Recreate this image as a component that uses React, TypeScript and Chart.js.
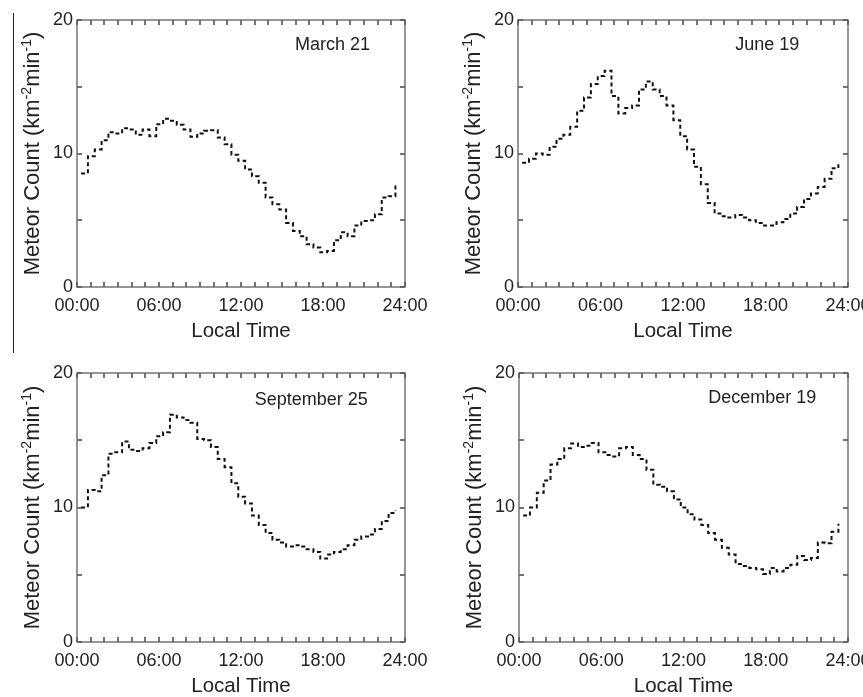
import React, { useEffect, useRef } from 'react';
import { Chart, registerables } from 'chart.js';

Chart.register(...registerables);

// Local time (hours) of each 30-minute step
const HOURS = [
  0.3, 0.8, 1.3, 1.8, 2.3, 2.8, 3.3, 3.8, 4.3, 4.8, 5.3, 5.8, 6.3, 6.8, 7.3, 7.8,
  8.3, 8.8, 9.3, 9.8, 10.3, 10.8, 11.3, 11.8, 12.3, 12.8, 13.3, 13.8, 14.3, 14.8,
  15.3, 15.8, 16.3, 16.8, 17.3, 17.8, 18.3, 18.8, 19.3, 19.8, 20.3, 20.8, 21.3,
  21.8, 22.3, 22.8, 23.3,
];

const MARCH_21 = [
  8.5, 9.8, 10.3, 11.0, 11.6, 11.5, 11.9, 11.8, 11.4, 11.8, 11.3, 12.2, 12.6, 12.45,
  12.15, 11.8, 11.25, 11.5, 11.7, 11.75, 11.2, 10.7, 9.9, 9.45, 8.8, 8.3, 7.8, 6.7,
  6.2, 5.8, 4.8, 4.2, 3.8, 3.2, 2.95, 2.6, 2.7, 3.5, 4.1, 3.8, 4.6, 4.95, 5.0, 5.45,
  6.7, 6.8, 7.6,
];

const JUNE_19 = [
  9.3, 9.6, 10.0, 9.9, 10.5, 11.1, 11.4, 12.0, 13.2, 14.2, 15.2, 15.8, 16.2, 14.3,
  13.0, 13.4, 13.6, 14.8, 15.4, 14.8, 14.3, 13.6, 12.5, 11.3, 10.3, 9.0, 7.7, 6.3,
  5.5, 5.3, 5.2, 5.4, 5.2, 5.0, 4.8, 4.6, 4.6, 4.85, 5.1, 5.5, 6.0, 6.6, 7.0, 7.5,
  8.1, 8.9, 9.2,
];

const SEPTEMBER_25 = [
  10.0, 11.3, 11.2, 12.4, 14.0, 14.1, 14.9, 14.3, 14.2, 14.4, 14.8, 15.3, 15.6, 16.9,
  16.7, 16.5, 16.3, 15.1, 15.0, 14.5, 13.6, 13.0, 11.8, 10.8, 10.3, 9.4, 8.7, 8.1,
  7.6, 7.4, 7.1, 7.2, 7.1, 6.9, 6.7, 6.2, 6.5, 6.7, 6.9, 7.2, 7.6, 7.85, 8.0, 8.4,
  9.0, 9.6, 9.8,
];

const DECEMBER_19 = [
  9.4, 10.0, 11.1, 12.0, 13.2, 13.6, 14.4, 14.75, 14.5, 14.6, 14.8, 14.1, 13.9, 13.8,
  14.4, 14.5, 13.9, 13.6, 12.8, 11.7, 11.55, 11.2, 10.6, 10.0, 9.5, 9.1, 8.7, 8.1,
  7.6, 7.0, 6.5, 5.8, 5.65, 5.5, 5.4, 5.05, 5.5, 5.25, 5.5, 5.75, 6.4, 6.1, 6.25,
  7.4, 7.35, 8.2, 8.8,
];

// Tick positions (hourly marks on the time axis, every 5 on the count axis)
const X_TICKS = [0, 1, 2, 3, 4, 5, 6, 7, 8, 9, 10, 11, 12, 13, 14, 15, 16, 17, 18, 19, 20, 21, 22, 23, 24];
const Y_TICKS = [0, 5, 10, 15, 20];
const X_TICK_LABELS = ['00:00', '06:00', '12:00', '18:00', '24:00'];
const Y_TICK_LABELS = ['0', '10', '20'];
const X_TITLE = 'Local Time';

const FONT = '"Liberation Sans", Arial, Helvetica, sans-serif';
const TEXT = '#222';

type PanelDef = {
  label: string;
  values: number[];
  labelHour: number;
  labelValue: number;
  left: number;
  top: number;
  width: number;
  height: number;
  area: { l: number; r: number; t: number; b: number };
};

const PANELS: PanelDef[] = [
  { label: 'March 21', values: MARCH_21, labelHour: 15.95, labelValue: 17.75,
    left: 0, top: 0, width: 430, height: 345, area: { l: 77, r: 405, t: 20, b: 287 } },
  { label: 'June 19', values: JUNE_19, labelHour: 15.8, labelValue: 17.75,
    left: 430, top: 0, width: 433, height: 345, area: { l: 88, r: 418, t: 20, b: 287 } },
  { label: 'September 25', values: SEPTEMBER_25, labelHour: 13.0, labelValue: 17.6,
    left: 0, top: 345, width: 430, height: 352, area: { l: 77, r: 405, t: 28, b: 297 } },
  { label: 'December 19', values: DECEMBER_19, labelHour: 13.8, labelValue: 17.75,
    left: 430, top: 345, width: 433, height: 352, area: { l: 89, r: 418, t: 28, b: 297 } },
];

const framePlugin = {
  id: 'frame',
  afterDraw(chart: any, _args: any, opts: any) {
    const { ctx, chartArea: a, scales } = chart;
    const x = scales.x;
    const y = scales.y;
    ctx.save();
    ctx.setLineDash([]);
    ctx.globalAlpha = 1;
    // inward ticks (hourly on the time axis, every 5 on the count axis)
    ctx.fillStyle = '#3a3a3a';
    X_TICKS.forEach((v) => {
      const px = Math.round(x.getPixelForValue(v));
      ctx.fillRect(px - 0.7, a.bottom - 5, 1.4, 5);
      ctx.fillRect(px - 0.7, a.top, 1.4, 5);
    });
    Y_TICKS.forEach((v) => {
      const py = Math.round(y.getPixelForValue(v));
      ctx.fillRect(a.left, py - 0.7, 5, 1.4);
      ctx.fillRect(a.right - 5, py - 0.7, 5, 1.4);
    });
    // box
    ctx.strokeStyle = '#5f5f5f';
    ctx.lineWidth = 1.3;
    ctx.strokeRect(a.left, a.top, a.right - a.left, a.bottom - a.top);

    ctx.fillStyle = TEXT;
    // x title
    ctx.font = `20.5px ${FONT}`;
    ctx.textAlign = 'center';
    ctx.textBaseline = 'alphabetic';
    ctx.fillText(X_TITLE, (a.left + a.right) / 2, a.bottom + 50);

    // panel label
    ctx.font = `18px ${FONT}`;
    ctx.textAlign = 'left';
    ctx.fillText(opts.label, x.getPixelForValue(opts.hour), y.getPixelForValue(opts.value));

    // y title with superscripts
    const main = 22;
    const sup = 14;
    const parts: [string, boolean][] = [
      ['Meteor Count (km', false],
      ['-2', true],
      ['min', false],
      ['-1', true],
      [')', false],
    ];
    let total = 0;
    const widths: number[] = [];
    for (const [s, isSup] of parts) {
      ctx.font = `${isSup ? sup : main}px ${FONT}`;
      const w = ctx.measureText(s).width;
      widths.push(w);
      total += w;
    }
    ctx.translate(a.left - 38, (a.top + a.bottom) / 2);
    ctx.rotate(-Math.PI / 2);
    let cx = -total / 2;
    parts.forEach(([s, isSup], i) => {
      ctx.font = `${isSup ? sup : main}px ${FONT}`;
      ctx.fillText(s, cx, isSup ? -8.5 : 0);
      cx += widths[i];
    });
    ctx.restore();
  },
};

function Panel({ def }: { def: PanelDef }) {
  const ref = useRef<HTMLCanvasElement | null>(null);
  useEffect(() => {
    const canvas = ref.current;
    if (!canvas) return;
    const { area, width, height } = def;
    const chart = new Chart(canvas, {
      type: 'line',
      data: {
        datasets: [
          {
            data: HOURS.map((h, i) => ({ x: h, y: def.values[i] })),
            stepped: true,
            borderColor: '#111',
            borderWidth: 2,
            borderDash: [4, 3],
            pointRadius: 0,
            fill: false,
          },
        ],
      },
      options: {
        animation: false,
        responsive: false,
        maintainAspectRatio: false,
        devicePixelRatio: 1,
        layout: { padding: { left: 0, top: area.t, right: width - area.r, bottom: 0 } },
        plugins: {
          legend: { display: false },
          tooltip: { enabled: false },
          frame: { label: def.label, hour: def.labelHour, value: def.labelValue },
        } as any,
        scales: {
          x: {
            type: 'linear',
            min: 0,
            max: 24,
            grid: { display: false, drawTicks: false },
            border: { display: false },
            afterBuildTicks: (s: any) => {
              s.ticks = X_TICKS.map((v) => ({ value: v }));
            },
            ticks: {
              autoSkip: false,
              maxRotation: 0,
              padding: 8,
              color: TEXT,
              font: { family: FONT, size: 18 },
              callback: (v: any) =>
                Number(v) % 6 === 0 ? X_TICK_LABELS[Number(v) / 6] : '',
            },
            afterFit: (s: any) => {
              s.height = height - area.b;
              s.paddingLeft = 0;
              s.paddingRight = 0;
            },
          },
          y: {
            min: 0,
            max: 20,
            grid: { display: false, drawTicks: false },
            border: { display: false },
            afterBuildTicks: (s: any) => {
              s.ticks = Y_TICKS.map((v) => ({ value: v }));
            },
            ticks: {
              autoSkip: false,
              padding: 4,
              color: TEXT,
              font: { family: FONT, size: 18 },
              callback: (v: any) =>
                Number(v) % 10 === 0 ? Y_TICK_LABELS[Number(v) / 10] : '',
            },
            afterFit: (s: any) => {
              s.width = area.l;
              s.paddingTop = 0;
              s.paddingBottom = 0;
            },
          },
        },
      },
      plugins: [framePlugin],
    } as any);
    return () => chart.destroy();
  }, [def]);
  return (
    <canvas
      ref={ref}
      width={def.width}
      height={def.height}
      style={{
        position: 'absolute',
        left: def.left,
        top: def.top,
        width: def.width,
        height: def.height,
      }}
    />
  );
}

export default function App() {
  return (
    <div
      style={{
        position: 'absolute',
        left: 0,
        top: 0,
        width: 863,
        height: 697,
        background: '#fff',
        overflow: 'hidden',
      }}
    >
      {PANELS.map((p) => (
        <Panel key={p.label} def={p} />
      ))}
      <div
        style={{
          position: 'absolute',
          left: 13,
          top: 13,
          width: 1,
          height: 340,
          background: '#222',
        }}
      />
    </div>
  );
}
